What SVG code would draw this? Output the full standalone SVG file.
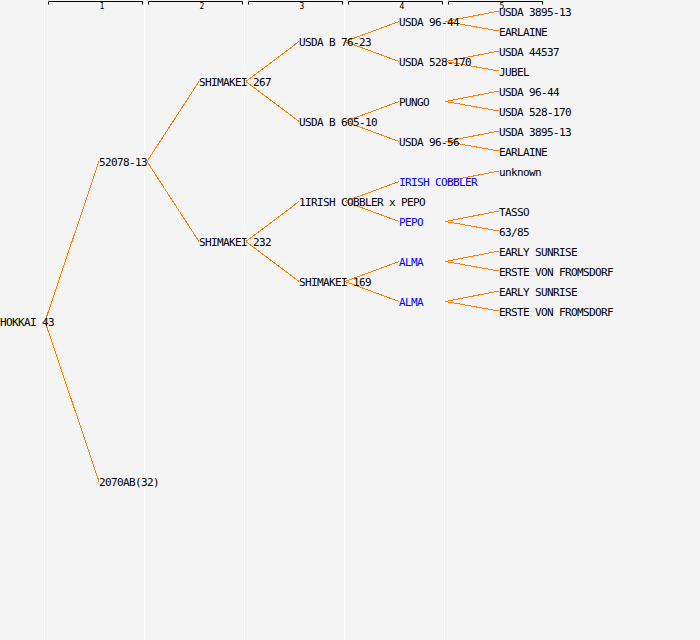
<svg xmlns="http://www.w3.org/2000/svg" width="700" height="640" viewBox="0 0 700 640">
<defs>
<style>
.bg{fill:#f4f4f4}
.sep{stroke:#ffffff;stroke-width:1}
.br{fill:none;stroke:#000;stroke-width:1}
.hd{font-family:"DejaVu Sans Mono","Liberation Mono",monospace;font-size:8px;fill:#000;text-anchor:middle}
.n{font-family:"DejaVu Sans Mono","Liberation Mono",monospace;font-size:11px;letter-spacing:-0.62px;fill:#000}
.b{fill:#0000ff}
#connectors line{stroke:#ff8000;stroke-width:1;shape-rendering:crispEdges}
</style>
</defs>
<rect class="bg" x="0" y="0" width="700" height="640"/>
<g id="columns">
<line class="sep" x1="44.5" y1="0" x2="44.5" y2="640"/>
<line class="sep" x1="144.5" y1="0" x2="144.5" y2="640"/>
<line class="sep" x1="244.5" y1="0" x2="244.5" y2="640"/>
<line class="sep" x1="344.5" y1="0" x2="344.5" y2="640"/>
<line class="sep" x1="444.5" y1="0" x2="444.5" y2="640"/>
<path class="br" d="M48.5,4.5V1.5H142.5V4.5"/>
<path class="br" d="M148.5,4.5V1.5H242.5V4.5"/>
<path class="br" d="M248.5,4.5V1.5H342.5V4.5"/>
<path class="br" d="M348.5,4.5V1.5H442.5V4.5"/>
<path class="br" d="M448.5,4.5V1.5H542.5V4.5"/>
<text class="hd" x="102" y="9">1</text>
<text class="hd" x="202" y="9">2</text>
<text class="hd" x="302" y="9">3</text>
<text class="hd" x="402" y="9">4</text>
<text class="hd" x="502" y="9">5</text>
</g>
<g id="connectors">
<line x1="45" y1="321.5" x2="99" y2="161.5"/>
<line x1="45" y1="321.5" x2="99" y2="481.5"/>
<line x1="147" y1="161.5" x2="199" y2="81.5"/>
<line x1="147" y1="161.5" x2="199" y2="241.5"/>
<line x1="246" y1="81.5" x2="299" y2="41.5"/>
<line x1="246" y1="81.5" x2="299" y2="121.5"/>
<line x1="246" y1="241.5" x2="299" y2="201.5"/>
<line x1="246" y1="241.5" x2="299" y2="281.5"/>
<line x1="345" y1="41.5" x2="399" y2="21.5"/>
<line x1="345" y1="41.5" x2="399" y2="61.5"/>
<line x1="345" y1="121.5" x2="399" y2="101.5"/>
<line x1="345" y1="121.5" x2="399" y2="141.5"/>
<line x1="345" y1="201.5" x2="399" y2="181.5"/>
<line x1="345" y1="201.5" x2="399" y2="221.5"/>
<line x1="345" y1="281.5" x2="399" y2="261.5"/>
<line x1="345" y1="281.5" x2="399" y2="301.5"/>
<line x1="445.5" y1="21.5" x2="499" y2="11"/>
<line x1="445.5" y1="21.5" x2="499" y2="31"/>
<line x1="445.5" y1="61.5" x2="499" y2="51"/>
<line x1="445.5" y1="61.5" x2="499" y2="71"/>
<line x1="445.5" y1="101.5" x2="499" y2="91"/>
<line x1="445.5" y1="101.5" x2="499" y2="111"/>
<line x1="445.5" y1="141.5" x2="499" y2="131"/>
<line x1="445.5" y1="141.5" x2="499" y2="151"/>
<line x1="445.5" y1="181.5" x2="499" y2="171"/>
<line x1="445.5" y1="221.5" x2="499" y2="211"/>
<line x1="445.5" y1="221.5" x2="499" y2="231"/>
<line x1="445.5" y1="261.5" x2="499" y2="251"/>
<line x1="445.5" y1="261.5" x2="499" y2="271"/>
<line x1="445.5" y1="301.5" x2="499" y2="291"/>
<line x1="445.5" y1="301.5" x2="499" y2="311"/>
</g>
<g id="n-hokkai43"><text class="n" x="0" y="326">HOKKAI 43</text></g>
<g id="n-52078-13"><text class="n" x="99" y="166">52078-13</text></g>
<g id="n-2070ab32"><text class="n" x="99" y="486">2070AB(32)</text></g>
<g id="n-shimakei267"><text class="n" x="199" y="86">SHIMAKEI 267</text></g>
<g id="n-shimakei232"><text class="n" x="199" y="246">SHIMAKEI 232</text></g>
<g id="n-usdab76-23"><text class="n" x="299" y="46">USDA B 76-23</text></g>
<g id="n-usdab605-10"><text class="n" x="299" y="126">USDA B 605-10</text></g>
<g id="n-1irishxpepo"><text class="n" x="299" y="206">1IRISH COBBLER x PEPO</text></g>
<g id="n-shimakei169"><text class="n" x="299" y="286">SHIMAKEI 169</text></g>
<g id="n-g4-usda96-44"><text class="n" x="399" y="26">USDA 96-44</text></g>
<g id="n-g4-usda528-170"><text class="n" x="399" y="66">USDA 528-170</text></g>
<g id="n-pungo"><text class="n" x="399" y="106">PUNGO</text></g>
<g id="n-usda96-56"><text class="n" x="399" y="146">USDA 96-56</text></g>
<g id="n-irishcobbler"><text class="n b" x="399" y="186">IRISH COBBLER</text></g>
<g id="n-pepo"><text class="n b" x="399" y="226">PEPO</text></g>
<g id="n-alma1"><text class="n b" x="399" y="266">ALMA</text></g>
<g id="n-alma2"><text class="n b" x="399" y="306">ALMA</text></g>
<g id="n-g5-usda3895-13a"><text class="n" x="499" y="16">USDA 3895-13</text></g>
<g id="n-g5-earlainea"><text class="n" x="499" y="36">EARLAINE</text></g>
<g id="n-g5-usda44537"><text class="n" x="499" y="56">USDA 44537</text></g>
<g id="n-g5-jubel"><text class="n" x="499" y="76">JUBEL</text></g>
<g id="n-g5-usda96-44"><text class="n" x="499" y="96">USDA 96-44</text></g>
<g id="n-g5-usda528-170"><text class="n" x="499" y="116">USDA 528-170</text></g>
<g id="n-g5-usda3895-13b"><text class="n" x="499" y="136">USDA 3895-13</text></g>
<g id="n-g5-earlaineb"><text class="n" x="499" y="156">EARLAINE</text></g>
<g id="n-g5-unknown"><text class="n" x="499" y="176">unknown</text></g>
<g id="n-g5-tasso"><text class="n" x="499" y="216">TASSO</text></g>
<g id="n-g5-63-85"><text class="n" x="499" y="236">63/85</text></g>
<g id="n-g5-earlysunrisea"><text class="n" x="499" y="256">EARLY SUNRISE</text></g>
<g id="n-g5-erstea"><text class="n" x="499" y="276">ERSTE VON FROMSDORF</text></g>
<g id="n-g5-earlysunriseb"><text class="n" x="499" y="296">EARLY SUNRISE</text></g>
<g id="n-g5-ersteb"><text class="n" x="499" y="316">ERSTE VON FROMSDORF</text></g>
</svg>
